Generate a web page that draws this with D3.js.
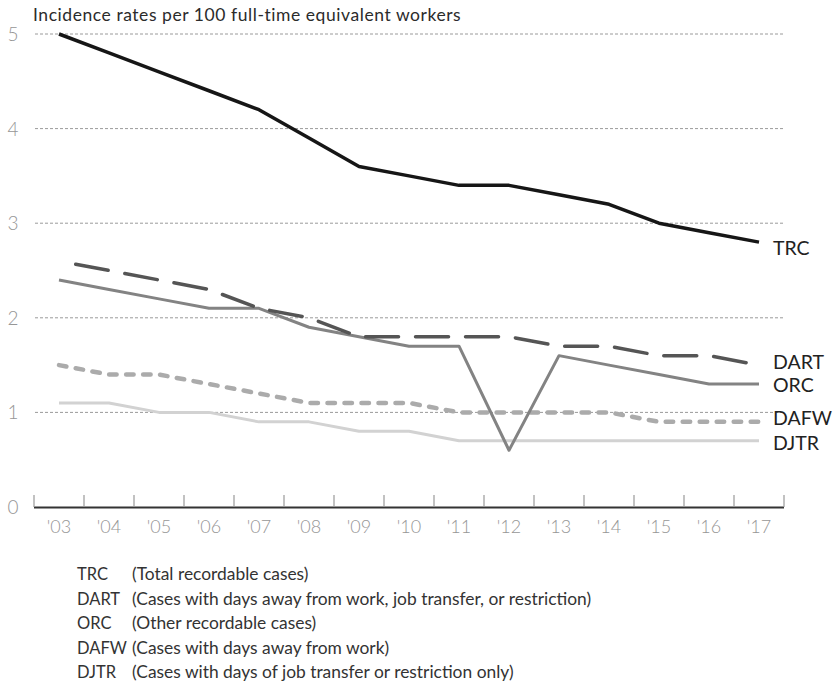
<!DOCTYPE html>
<html>
<head>
<meta charset="utf-8">
<script src="https://cdn.jsdelivr.net/npm/d3@7/dist/d3.min.js"></script>
<style>
  html, body { margin: 0; padding: 0; background: #fff; }
  svg { display: block; font-family: Lato, "Open Sans", sans-serif; }
</style>
</head>
<body>
<svg id="chart" width="840" height="691"></svg>
<script>
// Incidence rates per 100 full-time equivalent workers, 2003–2017
const years = ["'03","'04","'05","'06","'07","'08","'09","'10","'11","'12","'13","'14","'15","'16","'17"];
const trc  = [5.0, 4.8, 4.6, 4.4, 4.2, 3.9, 3.6, 3.5, 3.4, 3.4, 3.3, 3.2, 3.0, 2.9, 2.8];
const dart = [2.6, 2.5, 2.4, 2.3, 2.1, 2.0, 1.8, 1.8, 1.8, 1.8, 1.7, 1.7, 1.6, 1.6, 1.5];
const orc  = [2.4, 2.3, 2.2, 2.1, 2.1, 1.9, 1.8, 1.7, 1.7, 0.6, 1.6, 1.5, 1.4, 1.3, 1.3];
const dafw = [1.5, 1.4, 1.4, 1.3, 1.2, 1.1, 1.1, 1.1, 1.0, 1.0, 1.0, 1.0, 0.9, 0.9, 0.9];
const djtr = [1.1, 1.1, 1.0, 1.0, 0.9, 0.9, 0.8, 0.8, 0.7, 0.7, 0.7, 0.7, 0.7, 0.7, 0.7];
const yTicks = [0, 1, 2, 3, 4, 5];
const legendCodes = ["TRC", "DART", "ORC", "DAFW", "DJTR"];
const legendTexts = [
  "(Total recordable cases)",
  "(Cases with days away from work, job transfer, or restriction)",
  "(Other recordable cases)",
  "(Cases with days away from work)",
  "(Cases with days of job transfer or restriction only)"
];

const svg = d3.select("#chart");

const x = d3.scaleBand().domain(years).range([34, 784]);
const y = d3.scaleLinear().domain([0, 5]).range([507, 34]);
const cx = d => x(d) + x.bandwidth() / 2;

// spread a text's letters so that it spans the given width
function fitWidth(sel, width) {
  const node = sel.node();
  const n = sel.text().length;
  const w = node.getComputedTextLength();
  if (n > 1) sel.attr("letter-spacing", ((width - w) / (n - 1)).toFixed(3));
}

// title
const title = svg.append("text")
  .attr("x", 33).attr("y", 21)
  .attr("font-size", 17.5).attr("fill", "#2b2b2b")
  .text("Incidence rates per 100 full-time equivalent workers");
fitWidth(title, 428);

// dashed gridlines
svg.append("g").selectAll("line")
  .data(yTicks.filter(t => t > 0))
  .join("line")
  .attr("x1", 35).attr("x2", 783)
  .attr("y1", d => y(d)).attr("y2", d => y(d))
  .attr("stroke", "#9a9a9a").attr("stroke-width", 1)
  .attr("stroke-dasharray", "3,2");

// y labels
svg.append("g").selectAll("text")
  .data(yTicks)
  .join("text")
  .attr("x", 13).attr("y", d => y(d) + 7)
  .attr("text-anchor", "middle")
  .attr("font-size", 19).attr("font-weight", 300).attr("fill", "#969696")
  .text(d => d);

// x axis: baseline, ticks at band edges, labels centred in bands
const xAxis = svg.append("g");
xAxis.append("line")
  .attr("x1", 34).attr("x2", 784)
  .attr("y1", 507.5).attr("y2", 507.5)
  .attr("stroke", "#333").attr("stroke-width", 2);
const edges = years.map(d => x(d)).concat([x(years[years.length - 1]) + x.bandwidth()]);
xAxis.selectAll("line.tick")
  .data(edges)
  .join("line")
  .attr("class", "tick")
  .attr("x1", d => d).attr("x2", d => d)
  .attr("y1", 495).attr("y2", 507)
  .attr("stroke", "#999").attr("stroke-width", 1.2);
xAxis.selectAll("text")
  .data(years)
  .join("text")
  .attr("x", d => cx(d)).attr("y", 533)
  .attr("text-anchor", "middle")
  .attr("font-size", 18).attr("font-weight", 300).attr("fill", "#969696")
  .text(d => d);

const line = d3.line().x((d, i) => cx(years[i])).y(d => y(d));

const series = [
  { code: "TRC",  values: trc,  color: "#161616", width: 3.5, dash: null, cap: "butt", labelY: 248 },
  { code: "DART", values: dart, color: "#555555", width: 3.5, dash: "33,17", offset: 33, cap: "round", labelY: 362 },
  { code: "ORC",  values: orc,  color: "#838383", width: 3,   dash: null, cap: "butt", labelY: 385 },
  { code: "DAFW", values: dafw, color: "#ababab", width: 4.5, dash: "7.5,9.5", offset: 0, cap: "round", labelY: 418 },
  { code: "DJTR", values: djtr, color: "#d2d2d2", width: 3,   dash: null, cap: "butt", labelY: 443 }
];

// draw from lightest to darkest so the dark lines sit on top
series.slice().reverse().forEach(s => {
  svg.append("path")
    .datum(s.values)
    .attr("d", line)
    .attr("fill", "none")
    .attr("stroke", s.color)
    .attr("stroke-width", s.width)
    .attr("stroke-linejoin", "round")
    .attr("stroke-linecap", s.cap)
    .attr("stroke-dasharray", s.dash)
    .attr("stroke-dashoffset", s.offset || 0);
});

// end labels, set against the last point of each line
const lastYear = years[years.length - 1];
series.forEach(s => {
  svg.append("text")
    .attr("x", cx(lastYear) + 14)
    .attr("y", s.labelY)
    .attr("dy", "0.36em")
    .attr("font-size", 19.5).attr("fill", "#222")
    .text(s.code);
});

// legend
const legend = svg.append("g");
legendCodes.forEach((c, i) => {
  const ly = 580 + i * 24.5;
  legend.append("text").attr("x", 77).attr("y", ly)
    .attr("font-size", 16.5).attr("fill", "#333").text(c);
  legend.append("text").attr("x", 132).attr("y", ly)
    .attr("font-size", 17.4).attr("fill", "#333").text(legendTexts[i]);
});
</script>
</body>
</html>
